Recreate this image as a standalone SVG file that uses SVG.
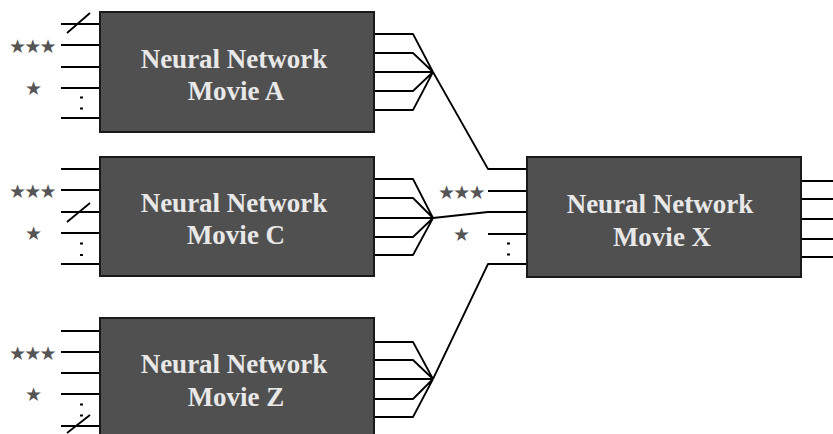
<svg xmlns="http://www.w3.org/2000/svg" width="833" height="434" viewBox="0 0 833 434">
<style>
.box{fill:#505050;stroke:#1a1a1a;stroke-width:2}
.lbl{font-family:"Liberation Serif","Times New Roman",serif;font-weight:bold;font-size:27px;fill:#e8e8e8;text-anchor:middle}
.star{font-family:"DejaVu Sans",sans-serif;font-size:19px;letter-spacing:-1.8px;fill:#555555}
.ln{fill:none;stroke:#000;stroke-width:1.8;stroke-linejoin:round}
.dot{fill:none;stroke:#000;stroke-width:2}
</style>
<rect width="833" height="434" fill="#ffffff"/>
<g id="connectors">
<path class="ln" d="M374 34H413L433 72M374 53H413L433 72M374 72H433M374 91H413L433 72M374 110H413L433 72"/>
<path class="ln" d="M433 72L488 169H527"/>
<path class="ln" d="M374 179H413L433 218M374 198H413L433 218M374 218H433M374 237H413L433 218M374 255H413L433 218"/>
<path class="ln" d="M433 218L488 212H527"/>
<path class="ln" d="M374 342H413L433 379M374 360H413L433 379M374 379H433M374 399H413L433 379M374 417H413L433 379"/>
<path class="ln" d="M433 379L488 264H527"/>
</g>
<g id="node-a">
<path class="ln" d="M61 24H100M61 45H100M61 67H100M61 88H100M61 118H100M67 33L90 13"/>
<path class="dot" d="M80 97.5H83M80 108.5H83"/>
<text class="star" x="9" y="53">★★★</text>
<text class="star" x="25" y="95">★</text>
<rect class="box" x="100" y="12" width="274" height="120"/>
<text class="lbl" x="234" y="68">Neural Network</text>
<text class="lbl" x="236" y="100">Movie A</text>
</g>
<g id="node-c">
<path class="ln" d="M61 169H100M61 190H100M61 212H100M61 233H100M61 264H100M67 222L90 203"/>
<path class="dot" d="M80 243.5H83M80 255H83"/>
<text class="star" x="9" y="197.5">★★★</text>
<text class="star" x="25" y="240">★</text>
<rect class="box" x="100" y="157" width="274" height="119"/>
<text class="lbl" x="234" y="212">Neural Network</text>
<text class="lbl" x="236" y="244">Movie C</text>
</g>
<g id="node-z">
<path class="ln" d="M61 331H100M61 352H100M61 373H100M61 394H100M61 426H100M67 433L90 415"/>
<path class="dot" d="M80 404.5H83M80 415.5H83"/>
<text class="star" x="9" y="359.5">★★★</text>
<text class="star" x="25" y="401">★</text>
<rect class="box" x="100" y="318" width="274" height="120"/>
<text class="lbl" x="234" y="373">Neural Network</text>
<text class="lbl" x="236" y="406">Movie Z</text>
</g>
<g id="node-x">
<path class="ln" d="M488 191H527M488 234H527M801 181H833M801 199H833M801 219H833M801 239H833M801 257H833"/>
<path class="dot" d="M507 243.5H510M507 254.5H510"/>
<text class="star" x="438" y="198.5">★★★</text>
<text class="star" x="453" y="241">★</text>
<rect class="box" x="527" y="157" width="274" height="120"/>
<text class="lbl" x="660" y="213">Neural Network</text>
<text class="lbl" x="662" y="246">Movie X</text>
</g>
</svg>
